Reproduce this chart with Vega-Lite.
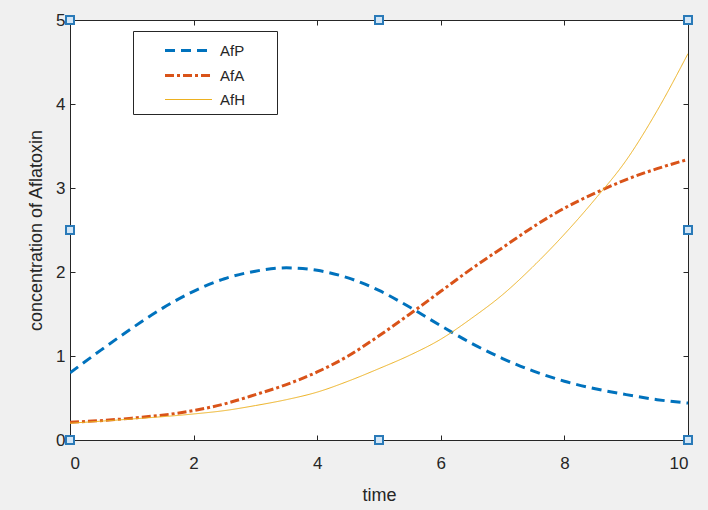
{
  "$schema": "https://vega.github.io/schema/vega-lite/v6.json",
  "width": 618,
  "height": 420,
  "autosize": {"type": "none"},
  "padding": {"left": 70, "top": 20, "right": 20, "bottom": 70},
  "background": "#f0f0f0",
  "config": {
    "view": {"fill": "white", "stroke": "#262626", "strokeWidth": 1},
    "font": "Liberation Sans"
  },
  "datasets": {
    "curves": [
      {"t": 0, "series": "AfP", "v": 0.8}, {"t": 0.5, "series": "AfP", "v": 1.07}, {"t": 1, "series": "AfP", "v": 1.33}, {"t": 1.5, "series": "AfP", "v": 1.57}, {"t": 2, "series": "AfP", "v": 1.77}, {"t": 2.5, "series": "AfP", "v": 1.92}, {"t": 3, "series": "AfP", "v": 2.01}, {"t": 3.5, "series": "AfP", "v": 2.05}, {"t": 4, "series": "AfP", "v": 2.02}, {"t": 4.5, "series": "AfP", "v": 1.93}, {"t": 5, "series": "AfP", "v": 1.78}, {"t": 5.5, "series": "AfP", "v": 1.58}, {"t": 6, "series": "AfP", "v": 1.36}, {"t": 6.5, "series": "AfP", "v": 1.15}, {"t": 7, "series": "AfP", "v": 0.97}, {"t": 7.5, "series": "AfP", "v": 0.82}, {"t": 8, "series": "AfP", "v": 0.7}, {"t": 8.5, "series": "AfP", "v": 0.61}, {"t": 9, "series": "AfP", "v": 0.54}, {"t": 9.5, "series": "AfP", "v": 0.48}, {"t": 10, "series": "AfP", "v": 0.44},
      {"t": 0, "series": "AfA", "v": 0.21}, {"t": 1, "series": "AfA", "v": 0.26}, {"t": 2, "series": "AfA", "v": 0.35}, {"t": 2.5, "series": "AfA", "v": 0.43}, {"t": 3, "series": "AfA", "v": 0.54}, {"t": 3.5, "series": "AfA", "v": 0.66}, {"t": 4, "series": "AfA", "v": 0.81}, {"t": 4.5, "series": "AfA", "v": 1.0}, {"t": 5, "series": "AfA", "v": 1.24}, {"t": 5.5, "series": "AfA", "v": 1.5}, {"t": 6, "series": "AfA", "v": 1.77}, {"t": 6.5, "series": "AfA", "v": 2.04}, {"t": 7, "series": "AfA", "v": 2.29}, {"t": 7.5, "series": "AfA", "v": 2.54}, {"t": 8, "series": "AfA", "v": 2.76}, {"t": 8.5, "series": "AfA", "v": 2.94}, {"t": 9, "series": "AfA", "v": 3.1}, {"t": 9.5, "series": "AfA", "v": 3.23}, {"t": 10, "series": "AfA", "v": 3.34},
      {"t": 0, "series": "AfH", "v": 0.2}, {"t": 1, "series": "AfH", "v": 0.25}, {"t": 2, "series": "AfH", "v": 0.31}, {"t": 2.5, "series": "AfH", "v": 0.35}, {"t": 3, "series": "AfH", "v": 0.41}, {"t": 3.5, "series": "AfH", "v": 0.48}, {"t": 4, "series": "AfH", "v": 0.57}, {"t": 4.5, "series": "AfH", "v": 0.7}, {"t": 5, "series": "AfH", "v": 0.85}, {"t": 5.5, "series": "AfH", "v": 1.01}, {"t": 6, "series": "AfH", "v": 1.2}, {"t": 6.5, "series": "AfH", "v": 1.45}, {"t": 7, "series": "AfH", "v": 1.73}, {"t": 7.5, "series": "AfH", "v": 2.07}, {"t": 8, "series": "AfH", "v": 2.45}, {"t": 8.5, "series": "AfH", "v": 2.87}, {"t": 9, "series": "AfH", "v": 3.33}, {"t": 9.5, "series": "AfH", "v": 3.92}, {"t": 10, "series": "AfH", "v": 4.6}
    ],
    "handles": [
      {"t": 0, "v": 0}, {"t": 5, "v": 0}, {"t": 10, "v": 0},
      {"t": 0, "v": 2.5}, {"t": 10, "v": 2.5},
      {"t": 0, "v": 5}, {"t": 5, "v": 5}, {"t": 10, "v": 5}
    ]
  },
  "resolve": {"axis": {"x": "independent", "y": "independent"}},
  "layer": [
    {
      "data": {"name": "curves"},
      "mark": {"type": "line", "interpolate": "monotone", "clip": true},
      "encoding": {
        "x": {"field": "t", "type": "quantitative", "scale": {"domain": [0, 10], "nice": false}, "title": "time",
          "axis": {"orient": "bottom", "values": [0, 2, 4, 6, 8, 10], "grid": false, "tickSize": -5, "tickColor": "#262626", "domainColor": "#262626", "labelColor": "#262626", "labelFontSize": 17, "labelPadding": 20, "titleFontSize": 18, "titleFontWeight": "normal", "titleColor": "#262626", "titlePadding": 15}},
        "y": {"field": "v", "type": "quantitative", "scale": {"domain": [0, 5], "nice": false}, "title": "concentration of Aflatoxin",
          "axis": {"orient": "left", "values": [0, 1, 2, 3, 4, 5], "grid": false, "tickSize": -5, "tickColor": "#262626", "domainColor": "#262626", "labelColor": "#262626", "labelFontSize": 17, "labelPadding": 10, "titleFontSize": 18, "titleFontWeight": "normal", "titleColor": "#262626", "titlePadding": 10}},
        "color": {"field": "series", "type": "ordinal", "title": " ", "sort": ["AfP", "AfA", "AfH"],
          "scale": {"type": "ordinal", "domain": ["AfP", "AfA", "AfH"], "range": ["#0072BD", "#D95319", "#EDB120"]},
          "legend": {"orient": "none", "legendX": 63, "legendY": 11, "fillColor": "white", "strokeColor": "#262626", "padding": 6, "symbolType": "M-2,0H2", "symbolSize": 552, "symbolOffset": 36, "labelFontSize": 15, "labelColor": "#262626", "rowPadding": 3, "labelOffset": 18, "titleOrient": "right", "titlePadding": 26, "titleFontSize": 4}},
        "strokeDash": {"field": "series", "type": "ordinal", "title": " ", "sort": ["AfP", "AfA", "AfH"],
          "scale": {"type": "ordinal", "domain": ["AfP", "AfA", "AfH"], "range": [[10, 6], [9, 3, 3, 3], [1, 0]]}},
        "strokeWidth": {"field": "series", "type": "ordinal", "title": " ", "sort": ["AfP", "AfA", "AfH"],
          "scale": {"type": "ordinal", "domain": ["AfP", "AfA", "AfH"], "range": [3, 3, 1]}}
      }
    },
    {
      "data": {"name": "handles"},
      "mark": {"type": "square", "size": 64, "filled": true, "fill": "#d3e6f6", "stroke": "#2a7ab8", "strokeWidth": 2, "opacity": 1, "clip": false},
      "encoding": {
        "x": {"field": "t", "type": "quantitative", "axis": {"orient": "top", "labels": false, "title": null, "values": [0, 2, 4, 6, 8, 10], "grid": false, "tickSize": -5, "tickColor": "#262626", "domainColor": "#262626"}},
        "y": {"field": "v", "type": "quantitative", "axis": {"orient": "right", "labels": false, "title": null, "values": [0, 1, 2, 3, 4, 5], "grid": false, "tickSize": -5, "tickColor": "#262626", "domainColor": "#262626"}}
      }
    }
  ]
}
